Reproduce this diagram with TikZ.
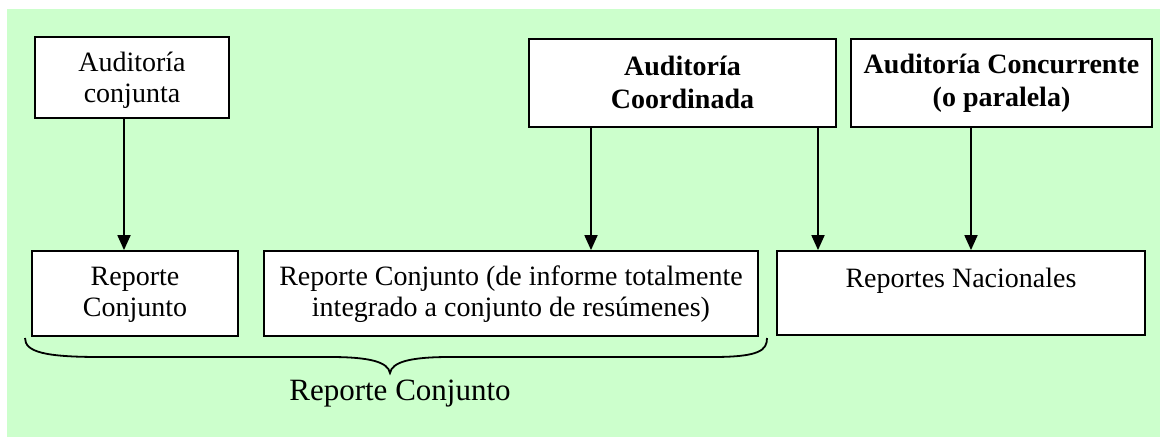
\documentclass[tikz,border=0pt]{standalone}
\usepackage{fontspec}
\setmainfont{Liberation Serif}
\usetikzlibrary{arrows.meta}
\definecolor{bggreen}{HTML}{CCFFCC}
\begin{document}
\begin{tikzpicture}[x=1pt,y=-1pt,
  box/.style={draw=black, line width=1.8pt, fill=white, inner sep=0pt},
  txt/.style={inner sep=0pt, align=center, font=\fontsize{28}{31}\selectfont},
  btxt/.style={txt, font=\fontsize{28}{33}\selectfont\bfseries},
  arr/.style={line width=1.8pt, -{Triangle[width=13pt,length=15pt]}},
  brace/.style={line width=1.8pt},
  lbl/.style={font=\fontsize{31}{34}\selectfont, inner sep=0pt}
]
\useasboundingbox (0,0) rectangle (1160,439);
\fill[bggreen] (7,9) rectangle (1160,437);

% boxes
\node[box, minimum width=194pt, minimum height=81pt] (A) at (132,77.5) {};
\node[box, minimum width=307pt, minimum height=88pt] (B) at (682.5,83) {};
\node[box, minimum width=301pt, minimum height=88pt] (C) at (1001.5,83) {};
\node[box, minimum width=206pt, minimum height=85pt] (D) at (135,293.5) {};
\node[box, minimum width=494pt, minimum height=85pt] (E) at (511,293.5) {};
\node[box, minimum width=368pt, minimum height=84pt] (F) at (961,293) {};

% texts
\node[txt] (At) at ([yshift=-3pt]A.center) {Auditoría\\conjunta};
\node[btxt] (Bt) at ([yshift=1pt]B.center) {Auditoría\\Coordinada};
\node[btxt] (Ct) at ([yshift=0pt]C.center) {Auditoría Concurrente\\(o paralela)};
\node[txt] (Dt) at ([yshift=-1pt]D.center) {Reporte\\Conjunto};
\node[txt] (Et) at ([yshift=-1pt]E.center) {Reporte Conjunto (de informe totalmente\\integrado a conjunto de resúmenes)};
\node[txt] (Ft) at ([yshift=-4pt]F.center |- 0,277) {Reportes Nacionales};

% connectors
\coordinate (xa) at (124,0);
\coordinate (xb) at (591,0);
\coordinate (xc) at (818,0);
\coordinate (xd) at (971,0);
\draw[arr] (xa |- A.south) -- (xa |- D.north);
\draw[arr] (xb |- B.south) -- (xb |- E.north);
\draw[arr] (xc |- B.south) -- (xc |- F.north);
\draw[arr] (xd |- C.south) -- (xd |- F.north);

% brace
\coordinate (bl) at (25,338);
\coordinate (bt) at (390,373);
\coordinate (br) at (767,338);
\draw[brace] (bl) .. controls (25,352) and (45,357) .. (100,357) -- (330,357)
  .. controls (370,357) and (388,362) .. (bt)
  .. controls (392,362) and (410,357) .. (450,357) -- (713,357)
  .. controls (760,357) and (767,350) .. (br);
\node[lbl] (L) at (400,394) {Reporte Conjunto};
\end{tikzpicture}
\end{document}
